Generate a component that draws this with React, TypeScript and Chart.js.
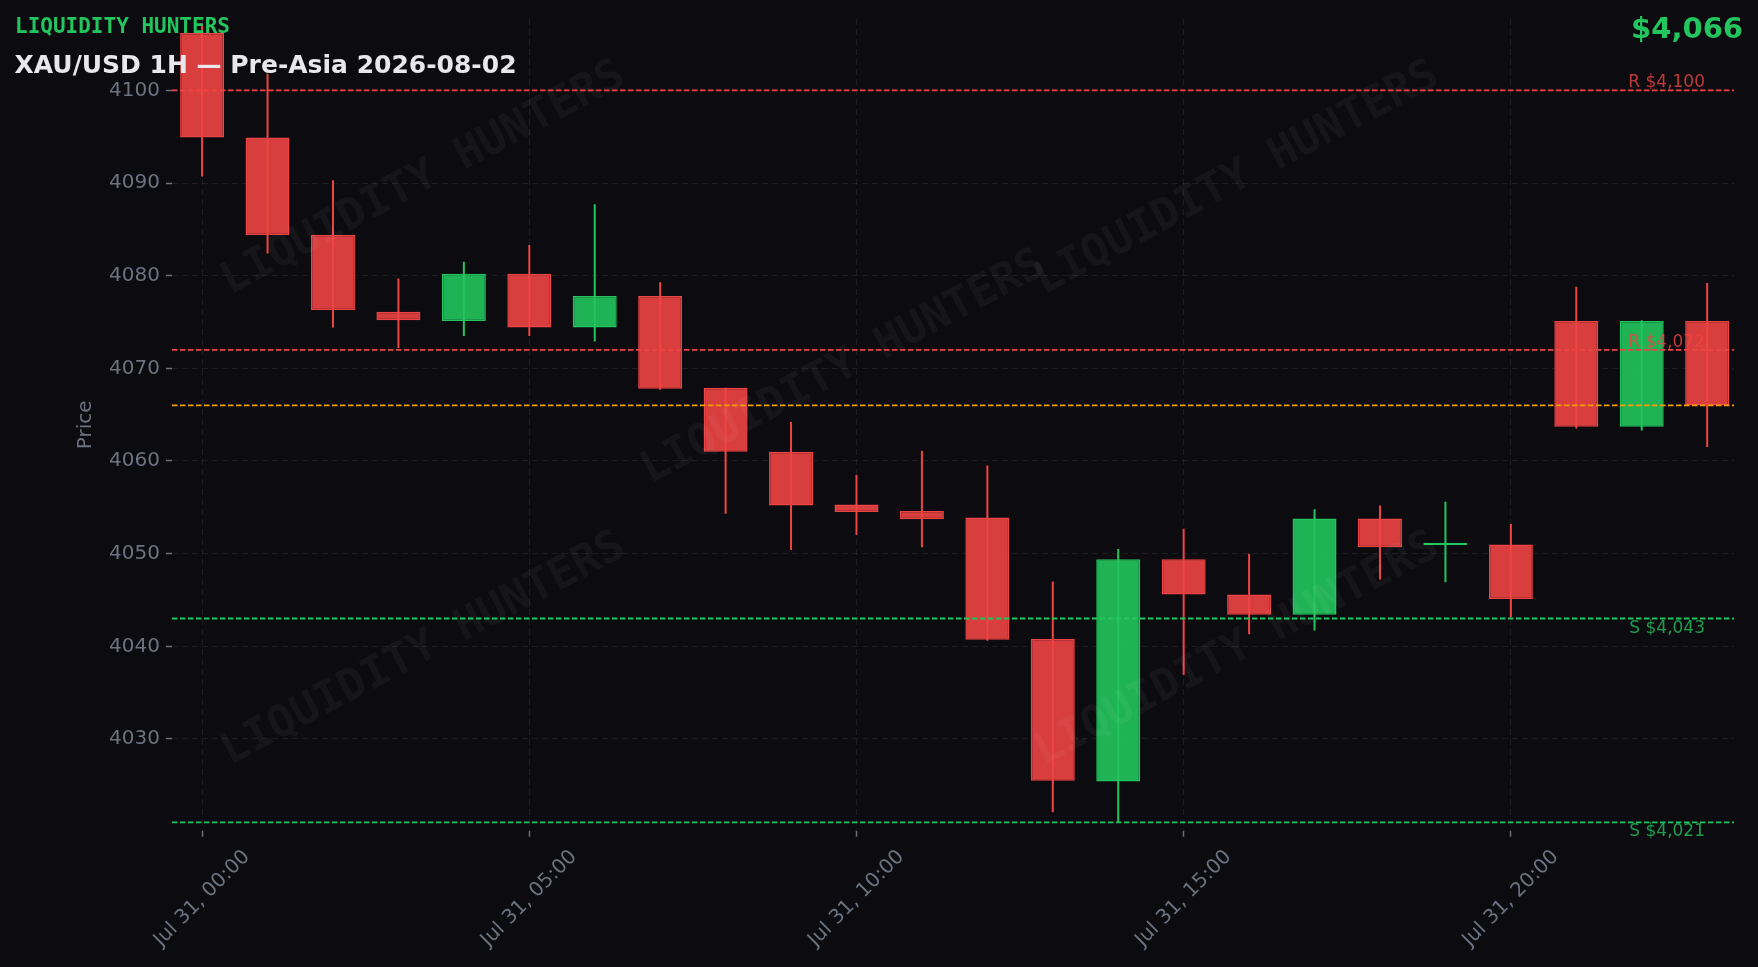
import React, { useEffect, useRef } from 'react';
import { Chart, registerables } from 'chart.js';

Chart.register(...registerables);

// Jul 31, hourly candles (x = hour of day)
const HOURS = [0, 1, 2, 3, 4, 5, 6, 7, 8, 9, 10, 11, 12, 13, 14, 15, 16, 17, 18, 19, 20, 21, 22, 23];
const HOUR_LABELS = [
  'Jul 31, 00:00', 'Jul 31, 01:00', 'Jul 31, 02:00', 'Jul 31, 03:00', 'Jul 31, 04:00', 'Jul 31, 05:00',
  'Jul 31, 06:00', 'Jul 31, 07:00', 'Jul 31, 08:00', 'Jul 31, 09:00', 'Jul 31, 10:00', 'Jul 31, 11:00',
  'Jul 31, 12:00', 'Jul 31, 13:00', 'Jul 31, 14:00', 'Jul 31, 15:00', 'Jul 31, 16:00', 'Jul 31, 17:00',
  'Jul 31, 18:00', 'Jul 31, 19:00', 'Jul 31, 20:00', 'Jul 31, 21:00', 'Jul 31, 22:00', 'Jul 31, 23:00',
];
const OPEN = [
  4106.2, 4094.9, 4084.4, 4076.1, 4075.1, 4080.2, 4074.4, 4077.8, 4067.9, 4061.0, 4055.3, 4054.6,
  4053.9, 4040.8, 4025.4, 4049.4, 4045.6, 4043.4, 4053.8, 4050.9, 4051.0, 4075.1, 4063.7, 4075.1,
];
const HIGH = [
  4107.2, 4101.8, 4090.3, 4079.7, 4081.5, 4083.3, 4087.7, 4079.3, 4067.9, 4064.2, 4058.5, 4061.1,
  4059.5, 4047.0, 4050.5, 4052.7, 4050.0, 4054.8, 4055.2, 4055.6, 4053.2, 4078.8, 4075.2, 4079.2,
];
const LOW = [
  4090.7, 4082.4, 4074.4, 4072.2, 4073.5, 4073.5, 4072.9, 4067.7, 4054.3, 4050.4, 4052.0, 4050.7,
  4040.6, 4022.1, 4021.0, 4036.9, 4041.3, 4041.7, 4047.2, 4046.9, 4043.1, 4063.5, 4063.3, 4061.5,
];
const CLOSE = [
  4094.9, 4084.4, 4076.3, 4075.2, 4080.2, 4074.4, 4077.8, 4067.8, 4061.0, 4055.2, 4054.5, 4053.7,
  4040.7, 4025.5, 4049.4, 4045.6, 4043.4, 4053.8, 4050.7, 4050.9, 4045.1, 4063.7, 4075.1, 4066.0,
];

// horizontal levels: R = resistance, S = support, P = last price
const LEVEL_PRICES = [4100, 4072, 4066, 4043, 4021];
const LEVEL_KINDS = ['R', 'R', 'P', 'S', 'S'];

const X_MIN = -0.46;
const X_MAX = 23.41;
const Y_MIN = 4020.1;
const Y_MAX = 4107.7;

const SANS = '"DejaVu Sans", sans-serif';
const MONO = '"DejaVu Sans Mono", monospace';
const BG = '#0b0b10';
const AXIS_TEXT = '#6b7280';
const GRID = 'rgba(255,255,255,0.075)';
const UP = '#22c55e';
const DOWN = '#ef4444';
const UP_FILL = 'rgba(34,197,94,0.9)';
const DOWN_FILL = 'rgba(239,68,68,0.9)';
const LEVEL_COLORS: Record<string, string> = { R: '#ef4444', S: '#22c55e', P: '#f59e0b' };
const LEVEL_TEXT: Record<string, string> = { R: 'rgba(239,68,68,0.8)', S: 'rgba(34,197,94,0.78)' };

// watermark spots as fractions of the plot area
const WATERMARK_SPOTS = [
  [0.161, 0.197],
  [0.43, 0.43],
  [0.682, 0.197],
  [0.161, 0.777],
  [0.682, 0.777],
];

const overlayPlugin = {
  id: 'overlay',
  afterDatasetsDraw(chart: Chart) {
    const { ctx, chartArea: a, scales } = chart;
    const yScale = scales.y;
    ctx.save();
    ctx.beginPath();
    ctx.rect(a.left, a.top, a.right - a.left, a.bottom - a.top);
    ctx.clip();

    // watermark
    ctx.font = `bold 44px ${MONO}`;
    ctx.fillStyle = 'rgba(255,255,255,0.045)';
    ctx.textAlign = 'center';
    ctx.textBaseline = 'middle';
    WATERMARK_SPOTS.forEach(([fx, fy]) => {
      ctx.save();
      ctx.translate(a.left + fx * (a.right - a.left), a.top + fy * (a.bottom - a.top));
      ctx.rotate((-28 * Math.PI) / 180);
      ctx.fillText('LIQUIDITY HUNTERS', 0, 0);
      ctx.restore();
    });

    // level lines
    ctx.lineWidth = 1.8;
    ctx.setLineDash([5.5, 2.5]);
    LEVEL_PRICES.forEach((price, i) => {
      const py = yScale.getPixelForValue(price);
      ctx.strokeStyle = LEVEL_COLORS[LEVEL_KINDS[i]];
      ctx.beginPath();
      ctx.moveTo(a.left, py);
      ctx.lineTo(a.right, py);
      ctx.stroke();
    });
    ctx.restore();

    // level labels (not clipped)
    ctx.save();
    ctx.font = `17px ${SANS}`;
    ctx.textAlign = 'right';
    ctx.textBaseline = 'alphabetic';
    LEVEL_PRICES.forEach((price, i) => {
      const kind = LEVEL_KINDS[i];
      if (kind === 'P') return;
      const py = yScale.getPixelForValue(price);
      ctx.fillStyle = LEVEL_TEXT[kind];
      const text = `${kind} $${price.toLocaleString('en-US')}`;
      ctx.fillText(text, a.right - 29, kind === 'R' ? py - 3 : py + 14);
    });
    ctx.restore();
  },
  afterDraw(chart: Chart) {
    // rotated hour labels, centred under their ticks
    const { ctx, chartArea: a, scales } = chart;
    const xScale = scales.x;
    ctx.save();
    ctx.font = `20px ${SANS}`;
    ctx.fillStyle = AXIS_TEXT;
    ctx.textAlign = 'center';
    ctx.textBaseline = 'middle';
    xScale.ticks.forEach((t) => {
      const label = HOUR_LABELS[t.value];
      if (!label) return;
      const w = ctx.measureText(label).width;
      const px = xScale.getPixelForValue(t.value);
      const cy = a.bottom + 6 + 9 + (0.7071 * (w + 20 * 1.164)) / 2;
      ctx.save();
      ctx.translate(px, cy);
      ctx.rotate(-Math.PI / 4);
      ctx.fillText(label, 0, 0);
      ctx.restore();
    });
    ctx.restore();
  },
};

const App: React.FC = () => {
  const canvasRef = useRef<HTMLCanvasElement | null>(null);
  const chartRef = useRef<Chart | null>(null);

  useEffect(() => {
    if (!canvasRef.current) return;
    const ctx = canvasRef.current.getContext('2d');
    if (!ctx) return;

    const isUp = HOURS.map((_, i) => CLOSE[i] >= OPEN[i]);

    chartRef.current = new Chart(ctx, {
      type: 'bar',
      data: {
        datasets: [
          {
            label: 'wick',
            data: HOURS.map((h, i) => ({ x: h, y: [LOW[i], HIGH[i]] })) as any,
            backgroundColor: isUp.map((u) => (u ? UP : DOWN)),
            borderWidth: 0,
            grouped: false,
            maxBarThickness: 2,
            order: 2,
          },
          {
            label: 'body',
            data: HOURS.map((h, i) => ({ x: h, y: [OPEN[i], CLOSE[i]] })) as any,
            backgroundColor: isUp.map((u) => (u ? UP_FILL : DOWN_FILL)),
            borderColor: isUp.map((u) => (u ? UP : DOWN)),
            borderWidth: 1.5,
            borderSkipped: false,
            grouped: false,
            barPercentage: 0.672,
            categoryPercentage: 1,
            minBarLength: 2.5,
            order: 1,
          },
        ],
      },
      options: {
        responsive: true,
        maintainAspectRatio: false,
        animation: false,
        events: [],
        layout: { padding: { left: 70, right: 24, top: 19, bottom: 0 } },
        plugins: {
          legend: { display: false },
          tooltip: { enabled: false },
        },
        scales: {
          x: {
            type: 'linear',
            min: X_MIN,
            max: X_MAX,
            offset: false,
            afterFit: (s: any) => {
              s.height = 136.3;
            },
            grid: {
              offset: false,
              color: GRID,
              lineWidth: 1,
              drawTicks: true,
              tickLength: 6,
              tickColor: AXIS_TEXT,
              tickWidth: 1.5,
            },
            border: { display: false, dash: [6, 4] },
            ticks: { display: false, stepSize: 5, includeBounds: false },
          },
          y: {
            min: Y_MIN,
            max: Y_MAX,
            beginAtZero: false,
            afterFit: (s: any) => {
              s.width = 102;
            },
            grid: {
              color: GRID,
              lineWidth: 1,
              drawTicks: true,
              tickLength: 6,
              tickColor: AXIS_TEXT,
              tickWidth: 1.5,
            },
            border: { display: false, dash: [6, 4] },
            ticks: {
              stepSize: 10,
              includeBounds: false,
              padding: 6,
              color: AXIS_TEXT,
              font: { family: SANS, size: 20 },
              callback: (v) => String(v),
            },
            title: {
              display: true,
              text: 'Price',
              color: AXIS_TEXT,
              font: { family: SANS, size: 20 },
              padding: { top: 4, bottom: 4 },
            },
          },
        },
      },
      plugins: [overlayPlugin],
    });

    return () => {
      chartRef.current?.destroy();
      chartRef.current = null;
    };
  }, []);

  const last = CLOSE[CLOSE.length - 1];

  return (
    <div style={{ position: 'fixed', inset: 0, background: BG, overflow: 'hidden' }}>
      <div style={{ position: 'absolute', inset: 0 }}>
        <canvas ref={canvasRef}></canvas>
      </div>
      <div
        style={{
          position: 'absolute',
          left: '15px',
          top: '15.5px',
          fontFamily: MONO,
          fontWeight: 'bold',
          fontSize: '21px',
          lineHeight: 1,
          color: UP,
          whiteSpace: 'nowrap',
        }}
      >
        LIQUIDITY HUNTERS
      </div>
      <div
        style={{
          position: 'absolute',
          left: '14.5px',
          top: '52px',
          fontFamily: SANS,
          fontWeight: 'bold',
          fontSize: '25px',
          lineHeight: 1,
          color: '#e8e8ec',
          whiteSpace: 'nowrap',
        }}
      >
        XAU/USD 1H — Pre-Asia 2026-08-02
      </div>
      <div
        style={{
          position: 'absolute',
          right: '15px',
          top: '13.8px',
          fontFamily: SANS,
          fontWeight: 'bold',
          fontSize: '29px',
          lineHeight: 1,
          color: UP,
          whiteSpace: 'nowrap',
        }}
      >
        ${Math.round(last).toLocaleString('en-US')}
      </div>
    </div>
  );
};

export default App;
